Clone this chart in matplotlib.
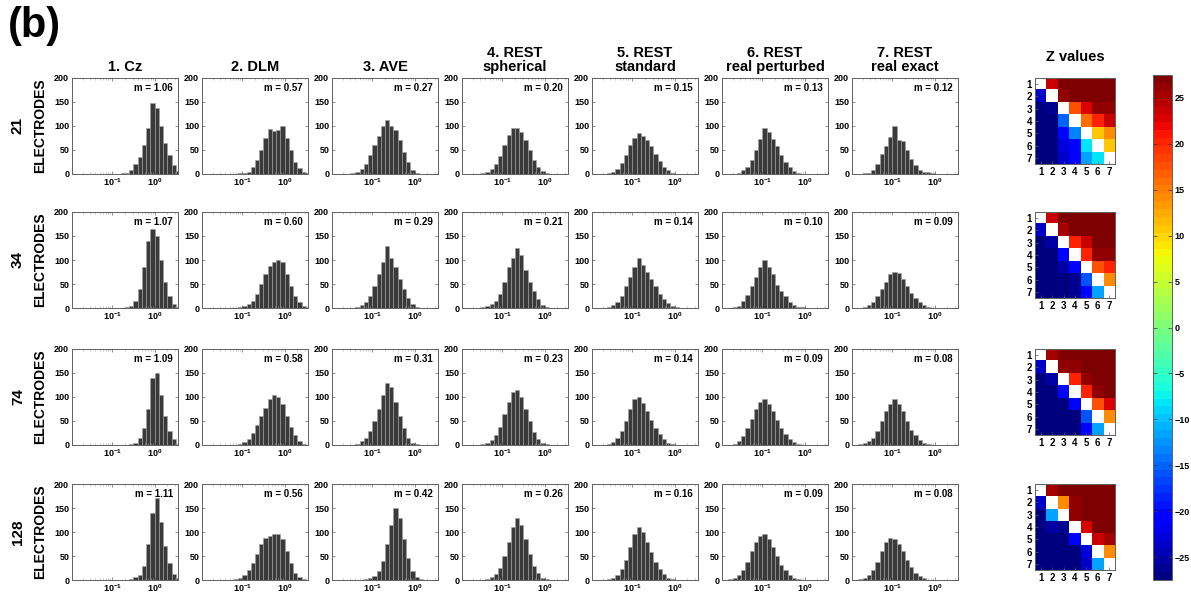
import numpy as np
import matplotlib
matplotlib.use('Agg')
import matplotlib.pyplot as plt

plt.rcParams['font.family'] = ['Liberation Sans', 'DejaVu Sans']
plt.rcParams['font.weight'] = 'bold'
plt.rcParams['mathtext.fontset'] = 'custom'
plt.rcParams['mathtext.rm'] = 'Liberation Sans:bold'
plt.rcParams['mathtext.default'] = 'rm'

# ---- data ----
methods = ['1. Cz', '2. DLM', '3. AVE', '4. REST\nspherical', '5. REST\nstandard',
           '6. REST\nreal perturbed', '7. REST\nreal exact']
electrodes = ['21', '34', '74', '128']

# bin edges: 10 bins per decade, 10^-2 .. 10^0.6
edges = np.logspace(-2, 0.6, 27)

counts_21 = [
    [0]*11 + [1, 2, 3, 8, 20, 35, 60, 95, 148, 138, 100, 65, 40, 18, 6],
    [0]*7 + [1, 1, 2, 3, 5, 15, 30, 50, 75, 93, 90, 92, 100, 75, 50, 25, 12, 5, 2],
    [0]*4 + [1, 3, 5, 10, 20, 40, 60, 80, 100, 112, 100, 92, 70, 45, 25, 8, 3, 1] + [0]*4,
    [0]*4 + [1, 2, 5, 10, 20, 38, 60, 82, 95, 95, 88, 70, 50, 30, 15, 6, 2] + [0]*5,
    [0]*3 + [1, 2, 5, 10, 22, 40, 60, 75, 85, 80, 70, 58, 42, 28, 15, 8, 3, 1] + [0]*5,
    [0]*3 + [1, 3, 8, 15, 30, 50, 72, 95, 88, 72, 58, 40, 25, 14, 7, 3, 1] + [0]*6,
    [0]*3 + [2, 3, 8, 20, 42, 58, 78, 100, 70, 68, 50, 32, 18, 8, 5, 5, 2] + [0]*6,
]
counts_34 = [
    [0]*13 + [2, 5, 15, 40, 85, 140, 165, 150, 100, 55, 25, 8, 2],
    [0]*8 + [1, 2, 4, 8, 15, 30, 50, 70, 88, 95, 100, 95, 70, 45, 25, 12, 5, 2],
    [0]*5 + [1, 3, 6, 12, 25, 45, 70, 95, 130, 105, 85, 60, 40, 20, 8, 3] + [0]*5,
    [0]*5 + [2, 4, 8, 15, 30, 55, 85, 105, 125, 110, 80, 55, 35, 18, 7, 2] + [0]*5,
    [0]*3 + [1, 3, 6, 12, 25, 45, 65, 85, 105, 90, 75, 60, 45, 30, 18, 10, 4, 2] + [0]*5,
    [0]*2 + [1, 2, 5, 15, 28, 45, 65, 85, 100, 85, 70, 48, 35, 25, 12, 6, 3, 2] + [0]*6,
    [0]*2 + [1, 3, 6, 12, 25, 40, 55, 70, 75, 72, 60, 45, 32, 20, 12, 6, 3, 1] + [0]*6,
]
counts_74 = [
    [0]*14 + [2, 5, 15, 35, 75, 140, 150, 105, 60, 30, 12, 3],
    [0]*8 + [1, 3, 6, 12, 25, 42, 60, 78, 95, 105, 100, 85, 60, 38, 20, 8, 3, 1],
    [0]*5 + [1, 3, 8, 15, 30, 50, 75, 105, 130, 120, 90, 60, 35, 15, 5, 2] + [0]*5,
    [0]*5 + [2, 5, 10, 20, 38, 65, 90, 110, 115, 100, 75, 50, 28, 12, 5, 2] + [0]*5,
    [0]*3 + [1, 3, 7, 15, 30, 50, 75, 95, 100, 88, 70, 52, 35, 22, 12, 5, 2] + [0]*6,
    [0]*2 + [1, 3, 8, 18, 35, 55, 75, 90, 95, 85, 70, 52, 35, 22, 12, 6, 2] + [0]*7,
    [0]*2 + [2, 4, 8, 15, 30, 50, 70, 85, 95, 85, 70, 50, 32, 20, 10, 4, 2] + [0]*7,
]
counts_128 = [
    [0]*13 + [1, 3, 6, 10, 30, 75, 140, 170, 120, 70, 35, 12, 4],
    [0]*7 + [1, 2, 5, 10, 20, 35, 55, 75, 88, 92, 95, 95, 85, 60, 35, 15, 6, 2] + [0],
    [0]*8 + [2, 4, 8, 18, 40, 75, 115, 150, 130, 85, 45, 18, 6, 2] + [0]*4,
    [0]*5 + [1, 3, 6, 12, 25, 50, 80, 110, 130, 115, 85, 55, 30, 15, 5, 2] + [0]*5,
    [0]*4 + [2, 5, 10, 22, 42, 68, 95, 110, 100, 80, 58, 38, 22, 12, 5, 2] + [0]*6,
    [0]*2 + [2, 4, 10, 20, 38, 60, 80, 92, 95, 85, 68, 50, 32, 20, 10, 5, 2] + [0]*7,
    [0]*2 + [2, 5, 10, 20, 38, 60, 80, 88, 85, 75, 60, 42, 28, 15, 8, 4, 1] + [0]*7,
]
counts = [counts_21, counts_34, counts_74, counts_128]

m_values = [
    [1.06, 0.57, 0.27, 0.20, 0.15, 0.13, 0.12],
    [1.07, 0.60, 0.29, 0.21, 0.14, 0.10, 0.09],
    [1.09, 0.58, 0.31, 0.23, 0.14, 0.09, 0.08],
    [1.11, 0.56, 0.42, 0.26, 0.16, 0.09, 0.08],
]

nan = np.nan
z_21 = [[nan, 24, 27, 27, 27, 27, 27],
        [-23.5, nan, 26, 27, 27, 27, 27],
        [-27, -26, nan, 18, 23, 26, 26],
        [-27, -27, -15, nan, 15.5, 20.5, 23.5],
        [-27, -27, -20.5, -13.5, nan, 11, 14.5],
        [-27, -27, -23, -21, -8.5, nan, 11],
        [-27, -27, -23.5, -20, -12, -8.5, nan]]
z_34 = [[nan, 24, 27, 27, 27, 27, 27],
        [-23.5, nan, 25.5, 27, 27, 27, 27],
        [-27, -25.5, nan, 20.5, 24, 27, 27],
        [-27, -27, -20, nan, 20.5, 26.5, 26.5],
        [-27, -27, -25, -20.5, nan, 18, 20.5],
        [-27, -27, -27, -26, -15.5, nan, 14],
        [-27, -27, -27, -26, -20, -12, nan]]
z_74 = [[nan, 25, 27, 27, 27, 27, 27],
        [-23.5, nan, 26, 26.5, 27, 27, 27],
        [-27, -25, nan, 20.5, 26, 27, 27],
        [-27, -27, -20, nan, 20.5, 26, 27],
        [-27, -27, -27, -20.5, nan, 18, 22.5],
        [-27, -27, -27, -27, -15.5, nan, 14],
        [-27, -27, -27, -27, -20, -12, nan]]
z_128 = [[nan, 25, 27, 27, 27, 27, 27],
         [-23.5, nan, 14.5, 26, 27, 27, 27],
         [-27, -12, nan, 26, 27, 27, 27],
         [-27, -25, -26, nan, 22.5, 27, 27],
         [-27, -27, -27, -21, nan, 23.5, 25],
         [-27, -27, -27, -27, -22.5, nan, 14],
         [-27, -27, -27, -27, -24, -12, nan]]
z_values = [z_21, z_34, z_74, z_128]

# ---- layout (pixels) ----
W, H = 1191, 597
fig = plt.figure(figsize=(W / 100, H / 100), dpi=100, facecolor='white')

def px(x, y, w, h):
    return [x / W, 1 - (y + h) / H, w / W, h / H]

row_tops = [78, 212, 349, 484]
hist_h = 96
col_left0, col_step, hist_w = 72, 130, 106
frame = '#606060'

cmap = plt.get_cmap('jet', 64).copy()
cmap.set_bad('white')

for r in range(4):
    for c in range(7):
        ax = fig.add_axes(px(col_left0 + c * col_step, row_tops[r], hist_w, hist_h))
        ax.set_xscale('log')
        ax.bar(edges[:-1], counts[r][c], width=np.diff(edges), align='edge',
               color='#3a3a3a', edgecolor='#a0a0a0', linewidth=0.4)
        ax.set_xlim(10 ** -1.95, 10 ** 0.55)
        ax.set_ylim(0, 200)
        ax.set_yticks([0, 50, 100, 150, 200])
        ax.set_xticks([0.1, 1])
        ax.tick_params(direction='in', top=True, right=True, labelsize=6.5,
                       length=2.5, width=0.5, pad=2, color=frame)
        ax.tick_params(which='minor', direction='in', top=True, length=1.5,
                       width=0.4, color='#999999')
        for s in ax.spines.values():
            s.set_color(frame)
            s.set_linewidth(0.7)
        ax.text(0.95, 0.9, 'm = %.2f' % m_values[r][c], transform=ax.transAxes,
                ha='right', va='center', fontsize=7, fontweight='bold')
        if r == 0:
            ax.set_title(methods[c], fontsize=10.5, fontweight='bold', pad=5,
                         linespacing=1.05)

    # Z matrix
    zax = fig.add_axes(px(1035, row_tops[r], 80, 86))
    zax.imshow(np.array(z_values[r], dtype=float), cmap=cmap, vmin=-27.5, vmax=27.5,
               aspect='auto', interpolation='nearest', extent=[0.5, 7.5, 7.5, 0.5])
    zax.set_xticks(range(1, 8))
    zax.set_yticks(range(1, 8))
    zax.tick_params(direction='in', labelsize=7, length=2, width=0.5, pad=2,
                    color=frame)
    for s in zax.spines.values():
        s.set_color(frame)
        s.set_linewidth(0.7)
    if r == 0:
        zax.set_title('Z values', fontsize=10.5, fontweight='bold', pad=12)

    yc = 1 - (row_tops[r] + hist_h / 2) / H
    fig.text(18 / W, yc, electrodes[r], rotation=90, ha='center', va='center',
             fontsize=11, fontweight='bold')
    fig.text(40 / W, yc, 'ELECTRODES', rotation=90, ha='center', va='center',
             fontsize=10, fontweight='bold')

# colorbar
cax = fig.add_axes(px(1153, 75, 19, 505))
sm = plt.cm.ScalarMappable(cmap=cmap, norm=plt.Normalize(-27.5, 27.5))
cb = fig.colorbar(sm, cax=cax)
cb.set_ticks([-25, -20, -15, -10, -5, 0, 5, 10, 15, 20, 25])
cb.outline.set_edgecolor(frame)
cb.outline.set_linewidth(0.7)
cax.tick_params(direction='in', left=True, right=True, labelsize=6.5, length=3,
                width=0.5, pad=2, color='#333333')

fig.text(8 / W, 1 - 6 / H, '(b)', ha='left', va='top', fontsize=30, fontweight='bold')

fig.savefig('out.png', dpi=100, facecolor='white')
